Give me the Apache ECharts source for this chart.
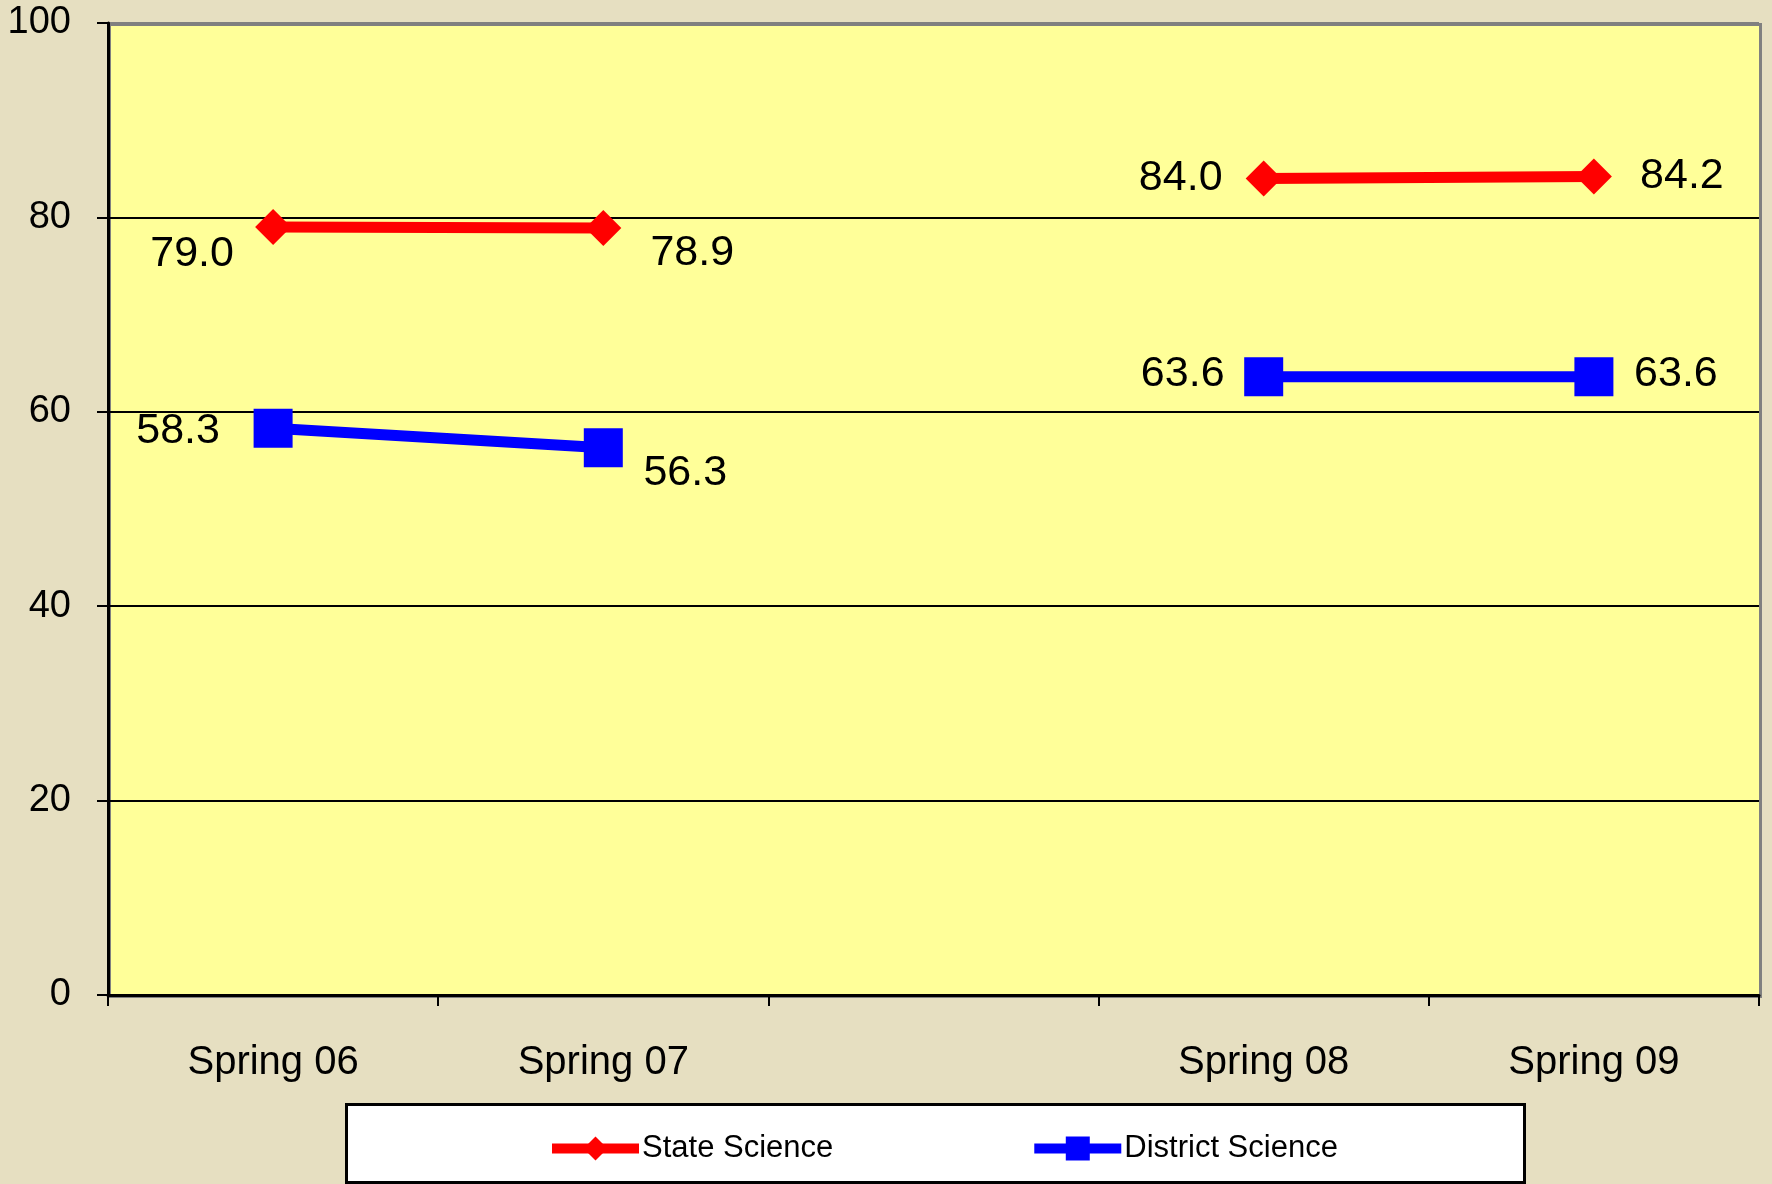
<!DOCTYPE html>
<html>
<head>
<meta charset="utf-8">
<script src="https://cdn.jsdelivr.net/npm/echarts@6/dist/echarts.min.js"></script>
<style>
html,body{margin:0;padding:0;background:#e6dfc1;}
#c{width:1772px;height:1184px;}
</style>
</head>
<body>
<div id="c"></div>
<script>
// ---- data ----
const categories = ['Spring 06', 'Spring 07', '', 'Spring 08', 'Spring 09'];
const stateScience = [79.0, 78.9, null, 84.0, 84.2];
const districtScience = [58.3, 56.3, null, 63.6, 63.6];
const yTicks = [0, 20, 40, 60, 80, 100];

// ---- label placement (style only) ----
const stateLabelOffsets = [[-81, 27], [89, 25], null, [-83, 0], [88, 0]];
const districtLabelOffsets = [[-95, 3], [82, 25], null, [-81, -3], [82, -3]];

const FONT = "'Liberation Sans', Arial, sans-serif";

function buildData(values, offsets) {
  return values.map((v, i) => {
    if (v === null) return null;
    return {
      value: v,
      label: { show: true, position: 'inside', offset: offsets[i] }
    };
  });
}

const chart = echarts.init(document.getElementById('c'), null, { renderer: 'canvas' });
const gridL = 108, gridT = 23, gridR = 13, gridB = 189;

chart.setOption({
  backgroundColor: 'transparent',
  animation: false,
  graphic: [
    {
      type: 'rect',
      left: gridL, top: gridT,
      shape: { width: 1772 - gridL - gridR, height: 1184 - gridT - gridB },
      style: { fill: '#ffff99', stroke: '#808080', lineWidth: 3 },
      z: -10
    },
    {
      type: 'rect',
      left: 345, top: 1103,
      shape: { width: 1178, height: 78 },
      style: { fill: '#ffffff', stroke: '#000000', lineWidth: 3 },
      z: -10
    }
  ],
  grid: { left: gridL, right: gridR, top: gridT, bottom: gridB, containLabel: false },
  legend: {
    left: 542, top: 1128,
    itemWidth: 87, itemHeight: 30, itemGap: 196,
    lineStyle: { width: 10 },
    textStyle: { fontFamily: FONT, fontSize: 31, color: '#000', padding: [0, 0, 0, -2] },
    data: ['State Science', 'District Science']
  },
  xAxis: {
    type: 'category',
    data: categories,
    boundaryGap: true,
    axisLine: { show: true, lineStyle: { color: '#000', width: 3 } },
    axisTick: { show: true, length: 11, lineStyle: { color: '#000', width: 2 } },
    axisLabel: { fontFamily: FONT, fontSize: 40, color: '#000', margin: 48, interval: 0 },
    splitLine: { show: false }
  },
  yAxis: {
    type: 'value',
    min: 0, max: 100, interval: 20,
    axisLine: { show: true, lineStyle: { color: '#000', width: 3 } },
    axisTick: { show: true, length: 11, lineStyle: { color: '#000', width: 2 } },
    axisLabel: {
      fontFamily: FONT, fontSize: 38, color: '#000', margin: 37,
      formatter: v => yTicks.includes(v) ? String(v) : ''
    },
    splitLine: {
      show: true,
      lineStyle: { color: ['#000', '#000', '#000', '#000', '#000', '#808080'], width: 2 }
    }
  },
  series: [
    {
      name: 'State Science',
      type: 'line',
      data: buildData(stateScience, stateLabelOffsets),
      connectNulls: false,
      symbol: 'diamond',
      symbolSize: 36,
      lineStyle: { color: '#ff0000', width: 11 },
      itemStyle: { color: '#ff0000' },
      label: { fontFamily: FONT, fontSize: 43, color: '#000', formatter: p => Number(p.value).toFixed(1) },
      z: 3
    },
    {
      name: 'District Science',
      type: 'line',
      data: buildData(districtScience, districtLabelOffsets),
      connectNulls: false,
      symbol: 'rect',
      symbolSize: 39,
      lineStyle: { color: '#0000ff', width: 11 },
      itemStyle: { color: '#0000ff' },
      label: { fontFamily: FONT, fontSize: 43, color: '#000', formatter: p => Number(p.value).toFixed(1) },
      z: 4
    }
  ]
});
</script>
</body>
</html>
